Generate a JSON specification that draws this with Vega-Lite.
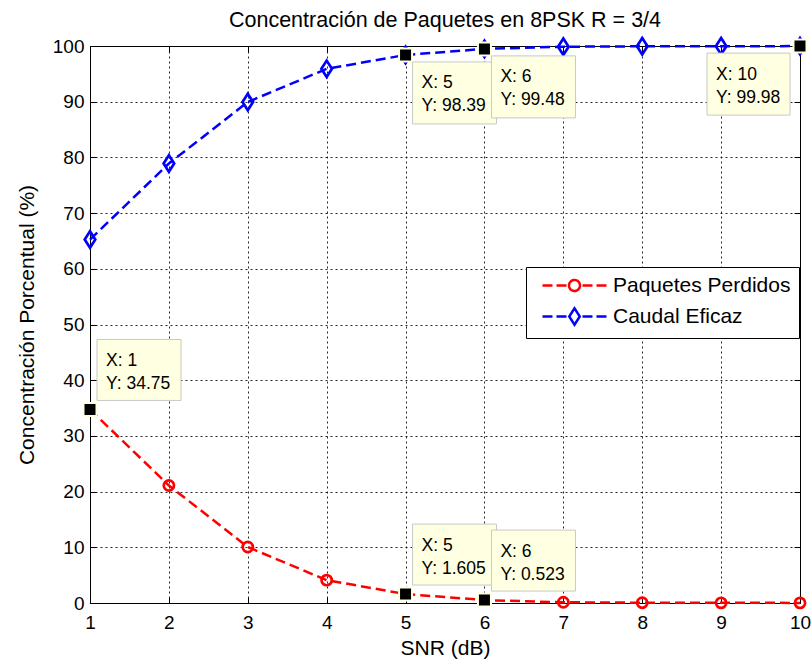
{
  "$schema": "https://vega.github.io/schema/vega-lite/v6.json",
  "width": 710,
  "height": 557,
  "autosize": {"type": "none"},
  "padding": {"left": 90, "top": 46, "right": 11, "bottom": 57},
  "background": "white",
  "config": {
    "font": "Liberation Sans",
    "view": {"stroke": "#000000", "strokeWidth": 1}
  },
  "title": {
    "text": "Concentración de Paquetes en 8PSK R = 3/4",
    "font": "Liberation Sans",
    "fontSize": 21.5,
    "fontWeight": "normal",
    "color": "#000000",
    "anchor": "middle",
    "baseline": "bottom",
    "offset": -21
  },
  "datasets": {
    "series": [
      {"snr": 1, "valor": 34.75, "serie": "Paquetes Perdidos"},
      {"snr": 2, "valor": 21.1, "serie": "Paquetes Perdidos"},
      {"snr": 3, "valor": 10.05, "serie": "Paquetes Perdidos"},
      {"snr": 4, "valor": 4.1, "serie": "Paquetes Perdidos"},
      {"snr": 5, "valor": 1.605, "serie": "Paquetes Perdidos"},
      {"snr": 6, "valor": 0.523, "serie": "Paquetes Perdidos"},
      {"snr": 7, "valor": 0.13, "serie": "Paquetes Perdidos"},
      {"snr": 8, "valor": 0.05, "serie": "Paquetes Perdidos"},
      {"snr": 9, "valor": 0.03, "serie": "Paquetes Perdidos"},
      {"snr": 10, "valor": 0.02, "serie": "Paquetes Perdidos"},
      {"snr": 1, "valor": 65.25, "serie": "Caudal Eficaz"},
      {"snr": 2, "valor": 78.9, "serie": "Caudal Eficaz"},
      {"snr": 3, "valor": 89.95, "serie": "Caudal Eficaz"},
      {"snr": 4, "valor": 95.9, "serie": "Caudal Eficaz"},
      {"snr": 5, "valor": 98.39, "serie": "Caudal Eficaz"},
      {"snr": 6, "valor": 99.48, "serie": "Caudal Eficaz"},
      {"snr": 7, "valor": 99.87, "serie": "Caudal Eficaz"},
      {"snr": 8, "valor": 99.95, "serie": "Caudal Eficaz"},
      {"snr": 9, "valor": 99.97, "serie": "Caudal Eficaz"},
      {"snr": 10, "valor": 99.98, "serie": "Caudal Eficaz"}
    ],
    "marcas": [
      {"snr": 1, "valor": 34.75, "texto": "X: 1\nY: 34.75", "lado": "arriba-derecha"},
      {"snr": 5, "valor": 1.605, "texto": "X: 5\nY: 1.605", "lado": "arriba-derecha"},
      {"snr": 6, "valor": 0.523, "texto": "X: 6\nY: 0.523", "lado": "arriba-derecha"},
      {"snr": 5, "valor": 98.39, "texto": "X: 5\nY: 98.39", "lado": "abajo-derecha"},
      {"snr": 6, "valor": 99.48, "texto": "X: 6\nY: 99.48", "lado": "abajo-derecha"},
      {"snr": 10, "valor": 99.98, "texto": "X: 10\nY: 99.98", "lado": "abajo-izquierda"}
    ]
  },
  "layer": [
    {
      "data": {"name": "series"},
      "mark": {"type": "line", "strokeDash": [10, 5], "strokeWidth": 2.5},
      "encoding": {
        "x": {
          "field": "snr", "type": "quantitative",
          "scale": {"domain": [1, 10], "nice": false, "zero": false},
          "axis": {
            "orient": "bottom",
            "values": [1, 2, 3, 4, 5, 6, 7, 8, 9, 10],
            "grid": true, "gridDash": [2, 3], "gridColor": "#000000", "gridOpacity": 0.85, "gridWidth": 1,
            "domain": false,
            "tickSize": -6, "tickColor": "#000000", "tickWidth": 1,
            "labelFontSize": 19, "labelColor": "#000000", "labelPadding": 16, "labelFlush": false,
            "title": "SNR (dB)", "titleFontSize": 21, "titleFontWeight": "normal", "titleColor": "#000000", "titlePadding": 5
          }
        },
        "y": {
          "field": "valor", "type": "quantitative",
          "scale": {"domain": [0, 100], "nice": false},
          "axis": {
            "orient": "left",
            "values": [0, 10, 20, 30, 40, 50, 60, 70, 80, 90, 100],
            "grid": true, "gridDash": [2, 3], "gridColor": "#000000", "gridOpacity": 0.85, "gridWidth": 1,
            "domain": false,
            "tickSize": -6, "tickColor": "#000000", "tickWidth": 1,
            "labelFontSize": 19, "labelColor": "#000000", "labelPadding": 12, "labelFlush": false,
            "title": "Concentración Porcentual (%)", "titleFontSize": 21, "titleFontWeight": "normal", "titleColor": "#000000", "titlePadding": 15
          }
        },
        "color": {
          "field": "serie", "type": "nominal",
          "scale": {"domain": ["Paquetes Perdidos", "Caudal Eficaz"], "range": ["#ff0000", "#0000ff"]},
          "legend": {
            "title": null,
            "orient": "none",
            "legendX": 436,
            "legendY": 221,
            "strokeColor": "#000000",
            "fillColor": "#ffffff",
            "padding": 8,
            "labelFontSize": 21,
            "labelColor": "#000000",
            "labelFont": "Liberation Sans",
            "labelLimit": 0,
            "symbolSize": 100,
            "symbolOffset": 30,
            "labelOffset": 28,
            "rowPadding": 7,
            "symbolStrokeWidth": 2.5,
            "encode": {
              "symbols": {
                "update": {
                  "shape": {"signal": "datum.value === 'Paquetes Perdidos' ? 'M-6.4,0H-4.4M-3.6,0H-1.6M1.6,0H3.6M4.4,0H6.4M1.1,0A1.1,1.1,0,1,1,-1.1,0A1.1,1.1,0,1,1,1.1,0Z' : 'M-6.4,0H-4.4M-3.6,0H-1.6M1.6,0H3.6M4.4,0H6.4M0,-1.64L1.05,0L0,1.64L-1.05,0Z'"},
                  "fill": {"value": "transparent"},
                  "strokeDash": {"value": [1, 0]},
                  "strokeWidth": {"value": 2.5},
                  "opacity": {"value": 1}
                }
              }
            }
          }
        }
      }
    },
    {
      "data": {"name": "series"},
      "transform": [{"filter": "datum.serie === 'Paquetes Perdidos'"}],
      "mark": {"type": "point", "shape": "circle", "size": 104, "filled": false, "stroke": "#ff0000", "strokeWidth": 2.7, "opacity": 1},
      "encoding": {
        "x": {"field": "snr", "type": "quantitative",
          "axis": {"orient": "top", "values": [1, 2, 3, 4, 5, 6, 7, 8, 9, 10], "labels": false, "grid": false, "domain": false, "tickSize": -6, "tickColor": "#000000", "title": null, "minExtent": 0, "maxExtent": 0}},
        "y": {"field": "valor", "type": "quantitative",
          "axis": {"orient": "right", "values": [0, 10, 20, 30, 40, 50, 60, 70, 80, 90, 100], "labels": false, "grid": false, "domain": false, "tickSize": -6, "tickColor": "#000000", "title": null, "minExtent": 0, "maxExtent": 0}}
      }
    },
    {
      "data": {"name": "series"},
      "transform": [{"filter": "datum.serie === 'Caudal Eficaz'"}],
      "mark": {"type": "point", "shape": "M0,-1.55L1,0L0,1.55L-1,0Z", "size": 112, "filled": false, "stroke": "#0000ff", "strokeWidth": 2.7, "opacity": 1},
      "encoding": {
        "x": {"field": "snr", "type": "quantitative", "axis": null},
        "y": {"field": "valor", "type": "quantitative", "axis": null}
      }
    },
    {
      "data": {"name": "marcas"},
      "mark": {"type": "point", "shape": "square", "size": 169, "filled": true, "fill": "#000000", "stroke": "#ffffe1", "strokeWidth": 2, "opacity": 1},
      "encoding": {
        "x": {"field": "snr", "type": "quantitative", "axis": null},
        "y": {"field": "valor", "type": "quantitative", "axis": null}
      }
    },
    {
      "data": {"name": "marcas"},
      "mark": {"type": "point", "size": 4, "filled": true, "fill": "#ffffe1", "stroke": "#c8c8c8", "strokeWidth": 1, "opacity": 1},
      "encoding": {
        "x": {"field": "snr", "type": "quantitative", "axis": null},
        "y": {"field": "valor", "type": "quantitative", "axis": null},
        "shape": {
          "field": "lado", "type": "nominal", "legend": null,
          "scale": {
            "domain": ["arriba-derecha", "abajo-derecha", "abajo-izquierda"],
            "range": ["M7,-70H91V-9H7Z", "M7,7H91V69H7Z", "M-93,7H-10V69H-93Z"]
          }
        }
      }
    },
    {
      "data": {"name": "marcas"},
      "transform": [{"filter": "datum.lado === 'arriba-derecha'"}],
      "mark": {"type": "text", "align": "left", "baseline": "alphabetic", "dx": 16, "dy": -43.5, "fontSize": 17.5, "lineBreak": "\n", "lineHeight": 23, "color": "#000000", "font": "Liberation Sans"},
      "encoding": {
        "x": {"field": "snr", "type": "quantitative", "axis": null},
        "y": {"field": "valor", "type": "quantitative", "axis": null},
        "text": {"field": "texto", "type": "nominal"}
      }
    },
    {
      "data": {"name": "marcas"},
      "transform": [{"filter": "datum.lado === 'abajo-derecha'"}],
      "mark": {"type": "text", "align": "left", "baseline": "alphabetic", "dx": 16, "dy": 33.5, "fontSize": 17.5, "lineBreak": "\n", "lineHeight": 23, "color": "#000000", "font": "Liberation Sans"},
      "encoding": {
        "x": {"field": "snr", "type": "quantitative", "axis": null},
        "y": {"field": "valor", "type": "quantitative", "axis": null},
        "text": {"field": "texto", "type": "nominal"}
      }
    },
    {
      "data": {"name": "marcas"},
      "transform": [{"filter": "datum.lado === 'abajo-izquierda'"}],
      "mark": {"type": "text", "align": "left", "baseline": "alphabetic", "dx": -84, "dy": 33.5, "fontSize": 17.5, "lineBreak": "\n", "lineHeight": 23, "color": "#000000", "font": "Liberation Sans"},
      "encoding": {
        "x": {"field": "snr", "type": "quantitative", "axis": null},
        "y": {"field": "valor", "type": "quantitative", "axis": null},
        "text": {"field": "texto", "type": "nominal"}
      }
    }
  ],
  "resolve": {"axis": {"x": "independent", "y": "independent"}}
}
